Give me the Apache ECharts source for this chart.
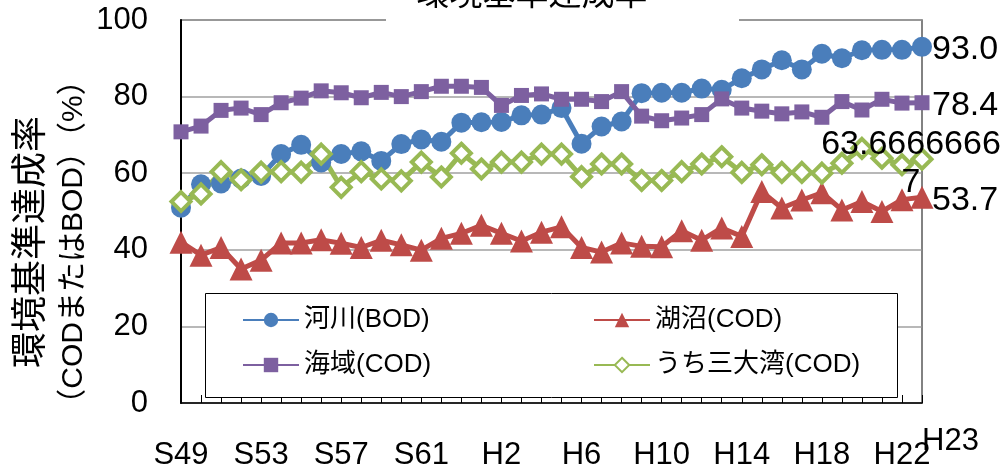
<!DOCTYPE html>
<html>
<head>
<meta charset="utf-8">
<script src="https://cdn.jsdelivr.net/npm/echarts@6/dist/echarts.min.js"></script>
<style>
  html, body { margin: 0; padding: 0; background: #fff; }
  #chart { width: 1005px; height: 475px; }
</style>
</head>
<body>
<div id="chart"></div>
<script>
// Fiscal years S49 (1974) to H23 (2011)
const categories = [
  'S49','S50','S51','S52','S53','S54','S55','S56','S57','S58','S59','S60','S61','S62','S63',
  'H1','H2','H3','H4','H5','H6','H7','H8','H9','H10','H11','H12','H13','H14','H15',
  'H16','H17','H18','H19','H20','H21','H22','H23'
];
const shownLabels = ['S49','S53','S57','S61','H2','H6','H10','H14','H18','H22'];
const lastLabel = 'H23';

// Attainment rate of environmental standards (%)
const riverBOD = [51.0, 57.1, 57.3, 58.6, 59.3, 65.0, 67.4, 62.8, 65.0, 65.7, 63.2, 67.6, 68.8, 68.2,
  73.2, 73.3, 73.4, 75.1, 75.3, 77.0, 67.7, 72.2, 73.5, 80.9, 81.0, 81.0, 82.1, 81.8, 84.8, 87.1,
  89.5, 87.1, 91.2, 90.0, 92.1, 92.2, 92.2, 93.0];
const lakeCOD = [42.0, 38.6, 40.6, 35.0, 37.3, 41.8, 41.8, 42.6, 41.7, 40.6, 42.5, 41.3, 39.9, 43.0,
  44.3, 46.4, 44.3, 42.3, 44.6, 46.0, 40.6, 39.4, 41.8, 40.9, 40.8, 45.0, 42.5, 45.7, 43.5, 55.2,
  50.9, 53.0, 54.9, 50.4, 52.6, 50.0, 53.1, 53.7];
const seaCOD = [70.8, 72.3, 76.4, 77.0, 75.3, 78.4, 79.6, 81.5, 81.0, 79.7, 81.1, 80.0, 81.3, 82.7,
  82.7, 82.4, 77.7, 80.3, 80.7, 79.3, 79.3, 78.7, 81.3, 74.9, 73.7, 74.4, 75.3, 79.4, 77.0, 76.2,
  75.5, 76.0, 74.6, 78.7, 76.5, 79.3, 78.3, 78.4];
const baysCOD = [52.6, 54.6, 60.4, 58.3, 60.3, 60.4, 60.3, 65.0, 56.3, 60.4, 58.5, 58.0, 62.9, 59.0,
  65.2, 61.1, 62.9, 62.9, 65.0, 65.0, 59.1, 62.4, 62.4, 58.1, 58.1, 60.4, 62.4, 64.3, 60.2, 62.2,
  60.2, 60.2, 60.0, 62.6, 66.5, 63.9, 62.2, 63.66666667];

const seriesNames = ['河川(BOD)', '湖沼(COD)', '海域(COD)', 'うち三大湾(COD)'];

const LATIN = "'Liberation Sans', 'Noto Sans CJK JP', sans-serif";
const CJK = "'Noto Sans CJK JP', sans-serif";

const chart = echarts.init(document.getElementById('chart'), null, { renderer: 'canvas' });

function endLabel(fmt, offset, extra) {
  return Object.assign({
    show: true,
    fontFamily: LATIN,
    fontSize: 34,
    color: '#000',
    distance: 10,
    offset: offset,
    formatter: fmt
  }, extra || {});
}

function fixed1(p) { return Number(p.value).toFixed(1); }
function rawWrapped(p) {
  const s = String(p.value);
  return s.length > 10 ? s.slice(0, 10) + '\n' + s.slice(10) : s;
}

function lineSeries(name, data, color, symbol, size, itemStyle, label) {
  return {
    name: name,
    type: 'line',
    data: data,
    symbol: symbol,
    symbolSize: size,
    showAllSymbol: true,
    lineStyle: { color: color, width: 5 },
    itemStyle: itemStyle,
    emphasis: { disabled: true },
    endLabel: label,
    animation: false
  };
}

const legendText = { fontFamily: LATIN, fontSize: 26, color: '#000', lineHeight: 28 };
const tickFont = { fontFamily: LATIN, fontSize: 31, color: '#000' };

const option = {
  animation: false,
  backgroundColor: '#fff',
  grid: {
    left: 181, right: 83, top: 20, bottom: 72,
    show: true, borderColor: '#000', borderWidth: 1.2, backgroundColor: 'transparent'
  },
  xAxis: [{
    type: 'category',
    data: categories,
    boundaryGap: false,
    axisLine: { lineStyle: { color: '#000', width: 1.5 } },
    axisTick: { show: true, inside: true, length: 8, interval: 0, lineStyle: { color: '#000', width: 1 } },
    axisLabel: Object.assign({
      interval: function (idx, val) { return shownLabels.indexOf(val) >= 0; },
      margin: 37
    }, tickFont),
    splitLine: { show: false }
  }, {
    // the final year's label sits slightly raised, to the right of its tick
    type: 'category',
    data: categories,
    boundaryGap: false,
    position: 'bottom',
    axisLine: { show: false },
    axisTick: { show: false },
    axisLabel: Object.assign({
      interval: function (idx, val) { return val === lastLabel; },
      showMaxLabel: true,
      align: 'left',
      margin: 23
    }, tickFont),
    splitLine: { show: false }
  }],
  yAxis: [{
    type: 'value',
    min: 0, max: 100, interval: 20,
    axisLine: { show: true, lineStyle: { color: '#000', width: 2 } },
    axisTick: { show: false },
    axisLabel: Object.assign({ margin: 33 }, tickFont),
    splitLine: { lineStyle: { color: '#a0a0a0', width: 1.5 } }
  }, {
    type: 'value',
    position: 'right',
    min: 0, max: 100, interval: 20,
    axisLine: { show: true, lineStyle: { color: '#8c8c8c', width: 1.5 } },
    axisTick: { show: false },
    axisLabel: { show: false },
    splitLine: { show: false }
  }],
  legend: [{
    orient: 'vertical',
    left: 237, top: 301,
    itemWidth: 56, itemHeight: 18, itemGap: 17,
    textStyle: legendText,
    data: [seriesNames[0], seriesNames[2]],
    selectedMode: false
  }, {
    orient: 'vertical',
    left: 588, top: 301,
    itemWidth: 56, itemHeight: 18, itemGap: 17,
    textStyle: legendText,
    data: [seriesNames[1], seriesNames[3]],
    selectedMode: false
  }],
  graphic: [
    // legend frame
    { type: 'rect', z: 3, shape: { x: 205.5, y: 293.5, width: 692, height: 104 },
      style: { fill: '#fff', stroke: '#000', lineWidth: 1 } },
    // chart title, partly above the canvas edge
    { type: 'rect', z: 3, shape: { x: 386, y: 0, width: 353, height: 23 }, style: { fill: '#fff' } },
    { type: 'text', z: 4, x: 532, y: 9,
      style: { text: '環境基準達成率', font: '33px ' + CJK, fill: '#000', align: 'center', verticalAlign: 'bottom' } },
    // y-axis title
    { type: 'text', z: 4, x: 51, y: 242, rotation: Math.PI / 2,
      style: {
        text: '{a|環境基準達成率}\n{b|（CODまたはBOD）（%）}',
        align: 'center', verticalAlign: 'middle', fill: '#000',
        rich: {
          a: { fontFamily: CJK, fontSize: 36, lineHeight: 46, fill: '#000' },
          b: { fontFamily: LATIN, fontSize: 30, lineHeight: 46, fill: '#000' }
        }
      } }
  ],
  series: [
    lineSeries(seriesNames[0], riverBOD, '#4a7ebb', 'circle', 20,
      { color: '#4a7ebb' }, endLabel(fixed1, [0, 3])),
    lineSeries(seriesNames[1], lakeCOD, '#be4b48', 'triangle', 23,
      { color: '#be4b48' }, endLabel(fixed1, [0, 3])),
    lineSeries(seriesNames[2], seaCOD, '#7d60a0', 'rect', 15,
      { color: '#7d60a0' }, endLabel(fixed1, [0, 3])),
    lineSeries(seriesNames[3], baysCOD, '#98b954', 'diamond', 19,
      { color: '#fff', borderColor: '#98b954', borderWidth: 4 },
      endLabel(rawWrapped, [-21, 4], { align: 'center', lineHeight: 38, fontSize: 34 }))
  ]
};

chart.setOption(option);
</script>
</body>
</html>
